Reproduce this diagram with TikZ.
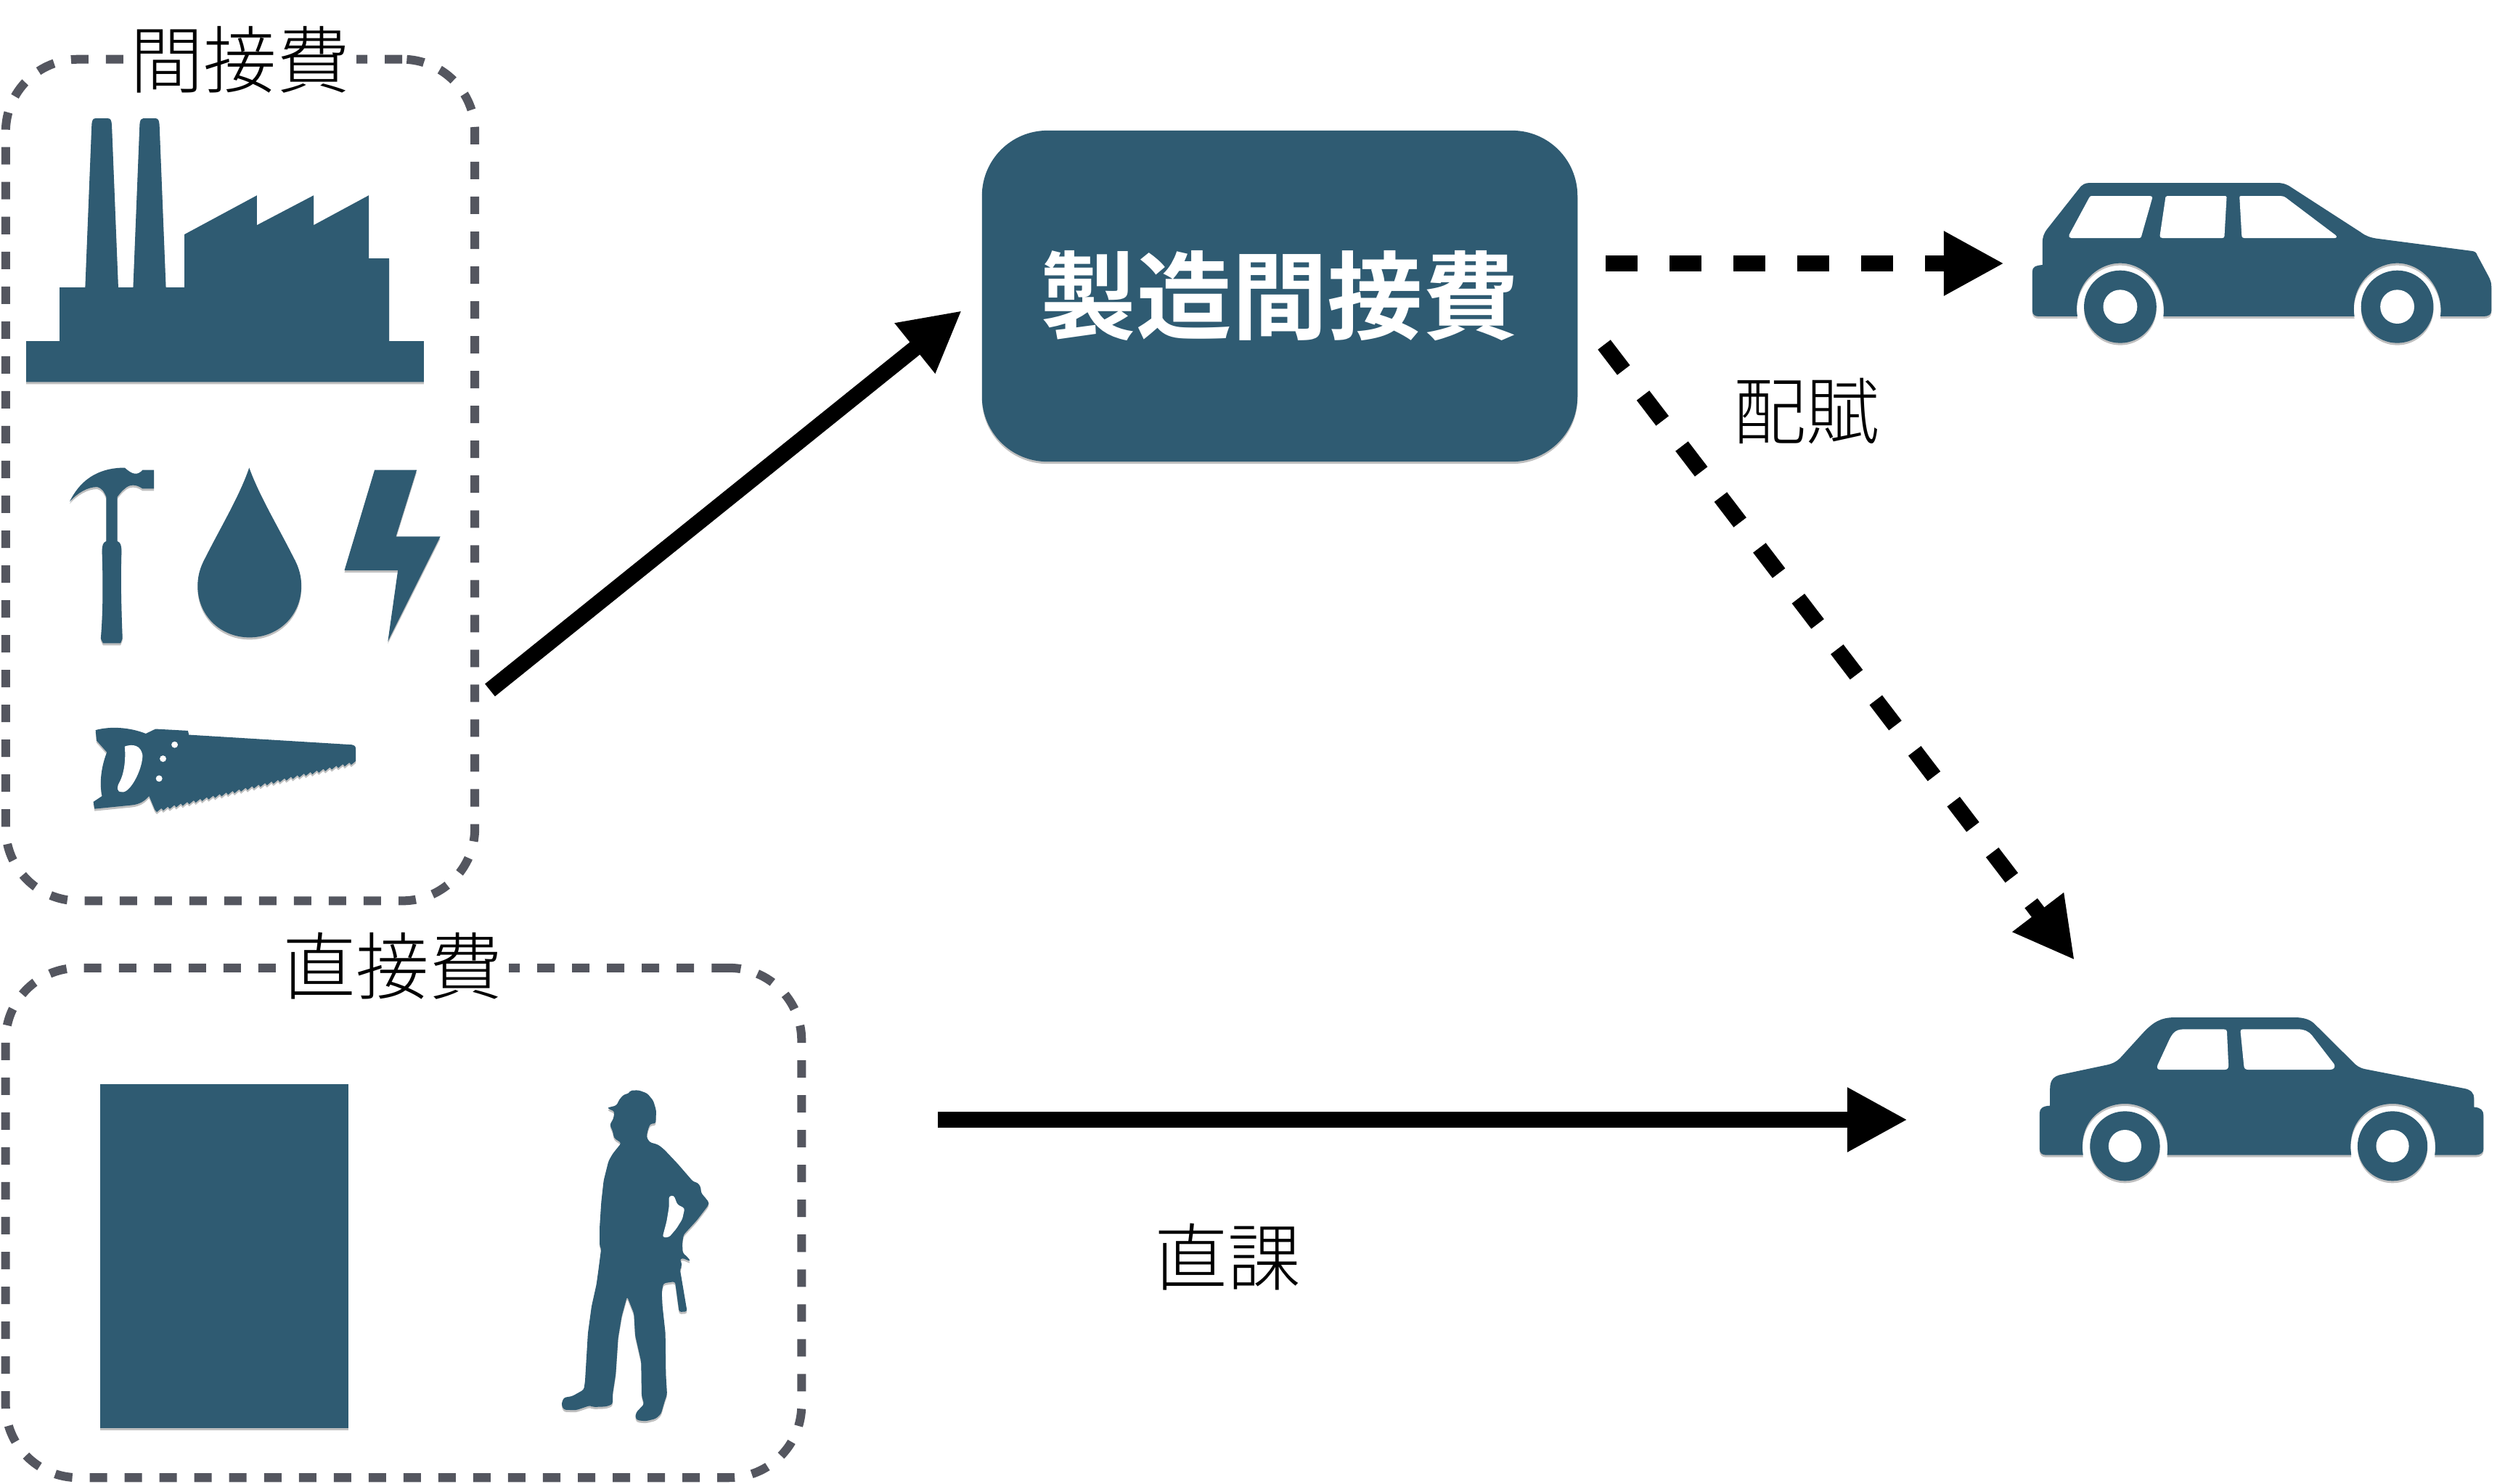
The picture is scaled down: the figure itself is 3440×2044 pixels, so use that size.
\documentclass[tikz,border=0pt]{standalone}
\usepackage{fontspec}
\usepackage{tikz}
\usetikzlibrary{arrows.meta,positioning,shadows}
\newfontfamily\cjk[UprightFont=* Light,BoldFont=* Bold]{Noto Sans CJK JP}
\definecolor{iconblue}{HTML}{2F5B72}
\definecolor{dashgray}{HTML}{54565F}
\begin{document}
\begin{tikzpicture}[
x=.01cm,y=-.01cm,
icon/.style={fill=iconblue,drop shadow={shadow xshift=0pt,shadow yshift=-.03cm,opacity=.25,fill=black}},
cutout/.style={fill=white},
costbox/.style={draw=dashgray,line width=.12cm,dash pattern=on .24cm off .24cm,rounded corners=1cm},
costlabel/.style={font=\cjk\fontsize{28.7pt}{31pt}\selectfont,inner xsep=.09cm,inner ysep=0pt},
pool/.style={icon,rounded corners=.9cm,text=white,font=\cjk\bfseries\fontsize{37.5pt}{40pt}\selectfont},
arrow/.style={-{Triangle[length=.83cm,width=.83cm]},line width=.22cm},
dasharrow/.style={arrow,dash pattern=on .44cm off .44cm}
]
\useasboundingbox (0,0) rectangle (3440,2044);
\node[costbox,minimum width=6.46cm,minimum height=11.59cm] (overhead) at (331,661.5) {};
\node[costlabel,fill=white] (overheadtitle) at (331,82) {間接費};
\node[costbox,minimum width=10.96cm,minimum height=7.02cm] (direct) at (556,1685) {};
\node[costlabel,fill=white] (directtitle) at (541,1331) {直接費};
\node[pool,minimum width=8.2cm,minimum height=4.56cm] (pool) at (1763,408) {製造間接費};
\node[costlabel] (allocate) at (2488,567) {配賦};
\node[costlabel] (trace) at (1691,1732) {直課};
\node[icon,minimum width=3.42cm,minimum height=4.74cm,inner sep=0pt] (material) at (309,1731) {};
\coordinate (overheadout) at (675,951);
\coordinate (poolin) at (1325,428);
\coordinate (poolright) at (2212,363);
\coordinate (wagonin) at (2761,363);
\coordinate (poolbottom) at (2210,475);
\coordinate (sedantop) at (2858,1323);
\coordinate (directout) at (1292,1543);
\coordinate (sedanin) at (2628,1543);
\draw[arrow] (overheadout)--(poolin);
\draw[dasharrow] (poolright)--(wagonin);
\draw[dasharrow] (poolbottom)--(sedantop);
\draw[arrow] (directout)--(sedanin);
\begin{scope}[xscale=.4464,yscale=.8036]
\path[icon] (81,655)--(81,585)--(184,585)--(184,493)--(263,493)--(283,214)..controls (284,205) and (288,203) .. (295,203)--(333,203)..controls (341,203) and (344,206) .. (345,214)--(365,493)--(411,493)--(431,214)..controls (432,205) and (436,203) .. (442,203)--(480,203)..controls (488,203) and (491,206) .. (492,214)--(512,493)--(569,493)--(569,402)--(793,335)--(793,386)--(968,335)--(968,386)--(1138,335)--(1138,443)--(1201,443)--(1201,585)--(1308,585)--(1308,655)--cycle;
\path[icon] (215,860)..controls (255,815) and (320,802) .. (385,802)..controls (410,815) and (425,815) .. (440,806)--(475,806)--(475,838)--(440,838)..controls (420,830) and (400,830) .. (385,838)..controls (375,842) and (368,848) .. (362,852)--(362,928)..controls (372,930) and (375,935) .. (375,945)..controls (372,1000) and (375,1050) .. (378,1095)--(372,1103)--(318,1103)--(311,1095)..controls (318,1050) and (318,1000) .. (315,945)..controls (315,935) and (318,930) .. (328,928)--(328,852)..controls (322,845) and (318,838) .. (300,835)..controls (270,835) and (240,845) .. cycle;
\path[icon] (769,802)..controls (800,850) and (860,905) .. (905,955)..controls (925,975) and (930,990) .. (930,1005)..controls (930,1055) and (860,1093) .. (770,1093)..controls (680,1093) and (610,1055) .. (610,1005)..controls (610,990) and (615,975) .. (635,955)..controls (680,905) and (740,850) .. cycle;
\path[icon] (1156,806)--(1286,806)--(1222,920)--(1359,920)--(1197,1100)--(1228,978)--(1063,978)--cycle;
\path[icon] (295,1252)..controls (340,1245) and (400,1247) .. (450,1258)--(480,1250)--(580,1253)--(583,1260)--(1085,1277)..controls (1095,1278) and (1098,1280) .. (1098,1285)--(1098,1305) \foreach \t in {1,...,31}{--++(-14,6.5)--++(-6,-3.8)} --(460,1365)..controls (440,1378) and (420,1380) .. (400,1381)--(292,1387)--(288,1375)--(315,1365)..controls (305,1340) and (315,1310) .. (330,1290)--(298,1270)--cycle;
\path[cutout] (385,1280)..controls (410,1275) and (435,1278) .. (440,1295)..controls (440,1320) and (400,1362) .. (375,1358)..controls (360,1358) and (360,1350) .. (368,1342)..controls (385,1325) and (388,1300) .. cycle (539,1277) ellipse [x radius=10,y radius=5.5] (503,1301) ellipse [x radius=10,y radius=5.5] (491,1335) ellipse [x radius=10,y radius=5.5];
\end{scope}
\begin{scope}[shift={(2760,220)},xscale=.4337,yscale=.3333]
\path[icon] (235,648)--(112,648)..controls (100,648) and (92,640) .. (92,625)--(92,462)..controls (92,445) and (100,438) .. (124,435)--(124,345)..controls (124,320) and (128,305) .. (140,285)--(240,120)..controls (250,102) and (260,96) .. (275,96)--(870,96)..controls (890,96) and (905,105) .. (915,115)--(1135,300)..controls (1150,315) and (1165,322) .. (1185,326)--(1490,378)..controls (1498,380) and (1503,385) .. (1505,395)--(1540,480)..controls (1548,500) and (1550,510) .. (1550,525)--(1550,625)..controls (1550,640) and (1540,648) .. (1525,648)--(1388,648)..controls (1400,530) and (1330,428) .. (1251,428)..controls (1170,428) and (1100,530) .. (1115,648)--(508,648)..controls (520,530) and (450,428) .. (371,428)..controls (290,428) and (220,530) .. cycle;
\path[cutout] (280,150)--(465,150)..controls (470,150) and (473,153) .. (473,158)--(438,318)..controls (437,322) and (435,324) .. (430,324)--(215,324)..controls (209,324) and (207,318) .. (209,310)--(272,158)..controls (274,153) and (276,150) .. cycle
(520,150)--(703,150)..controls (707,150) and (709,152) .. (709,156)--(702,316)..controls (702,321) and (699,324) .. (695,324)--(505,324)..controls (499,324) and (496,320) .. (497,313)--(515,155)..controls (516,152) and (517,150) .. cycle
(755,150)--(880,150)..controls (888,150) and (893,153) .. (897,157)--(1055,312)..controls (1060,318) and (1059,324) .. (1052,324)--(765,324)..controls (760,324) and (758,321) .. (757,316)--(750,155)..controls (750,152) and (752,150) .. cycle;
\path[icon] (371,608) ellipse [x radius=115,y radius=150];
\path[icon] (1251,608) ellipse [x radius=115,y radius=150];
\path[cutout] (371,608) ellipse [x radius=54,y radius=70] (1251,608) ellipse [x radius=54,y radius=70];
\end{scope}
\begin{scope}[shift={(2760,1360)},xscale=.4337,yscale=.3333]
\path[icon] (253,695)--(135,695)..controls (122,695) and (115,685) .. (115,670)--(115,520)..controls (115,503) and (125,492) .. (148,491)--(148,420)..controls (148,385) and (160,368) .. (185,362)--(330,322)..controls (345,318) and (358,310) .. (370,295)--(440,195)..controls (475,145) and (500,126) .. (545,126)--(925,126)..controls (955,126) and (975,135) .. (990,155)--(1110,310)..controls (1122,327) and (1132,335) .. (1150,340)--(1465,420)..controls (1485,425) and (1495,440) .. (1495,460)--(1495,497)..controls (1515,498) and (1525,510) .. (1525,530)--(1525,670)..controls (1525,685) and (1515,695) .. (1500,695)--(1370,695)..controls (1385,560) and (1310,483) .. (1236,483)..controls (1160,483) and (1090,560) .. (1105,695)--(520,695)..controls (532,560) and (460,483) .. (386,483)..controls (310,483) and (238,560) .. cycle;
\path[cutout] (575,175)--(700,175)..controls (707,175) and (710,178) .. (710,185)--(715,325)..controls (715,335) and (712,342) .. (703,342)--(497,342)..controls (490,342) and (486,333) .. (490,322)--(528,215)..controls (540,185) and (550,175) .. cycle
(760,175)--(935,175)..controls (955,175) and (968,182) .. (980,200)--(1050,318)..controls (1056,330) and (1050,342) .. (1038,342)--(778,342)..controls (770,342) and (765,338) .. (764,328)--(753,185)..controls (753,178) and (755,175) .. cycle;
\path[icon] (386,658) ellipse [x radius=111,y radius=144];
\path[icon] (1236,658) ellipse [x radius=111,y radius=144];
\path[cutout] (386,658) ellipse [x radius=52,y radius=67] (1236,658) ellipse [x radius=52,y radius=67];
\end{scope}
\begin{scope}[shift={(720,1460)},xscale=.3333,yscale=.3333,rounded corners=.03cm]
\path[icon] (348,200)--(388,190)--(400,165)--(418,145)--(440,140)--(445,128)--(480,127)--(515,140)--(540,170)--(552,210)--(550,265)--(528,265)--(518,290)--(512,320)--(525,342)--(560,352)--(585,372)--(640,430)--(705,505)--(725,510)--(737,530)--(737,550)--(770,590)--(768,602)--(720,665)--(665,725)--(660,760)--(662,800)--(680,815)--(695,835)--(670,825)--(660,820)--(648,830)--(658,838)--(656,860)--(650,865)--(680,1042)--(647,1044)--(630,918)--(582,925)--(575,960)--(578,1020)--(590,1130)--(592,1300)--(597,1385)--(588,1410)--(572,1465)--(550,1485)--(510,1495)--(475,1492)--(465,1480)--(470,1458)--(502,1425)--(492,1390)--(490,1250)--(465,1140)--(460,1050)--(432,980)--(410,1060)--(395,1150)--(385,1300)--(372,1385)--(372,1425)--(345,1435)--(290,1437)--(280,1430)--(220,1450)--(170,1448)--(160,1425)--(170,1398)--(205,1392)--(253,1365)--(258,1330)--(270,1130)--(285,1020)--(305,930)--(312,880)--(325,780)--(318,770)--(318,700)--(325,590)--(335,500)--(355,420)--(372,390)--(408,345)--(378,325)--(372,295)--(360,270)--(375,245)--(380,215)--cycle;
\path[cutout] (605,565)--(625,562)--(640,600)--(670,615)--(660,660)--(635,700)--(605,735)--(578,735)--(595,670)--(605,610)--cycle;
\end{scope}
\end{tikzpicture}
\end{document}
